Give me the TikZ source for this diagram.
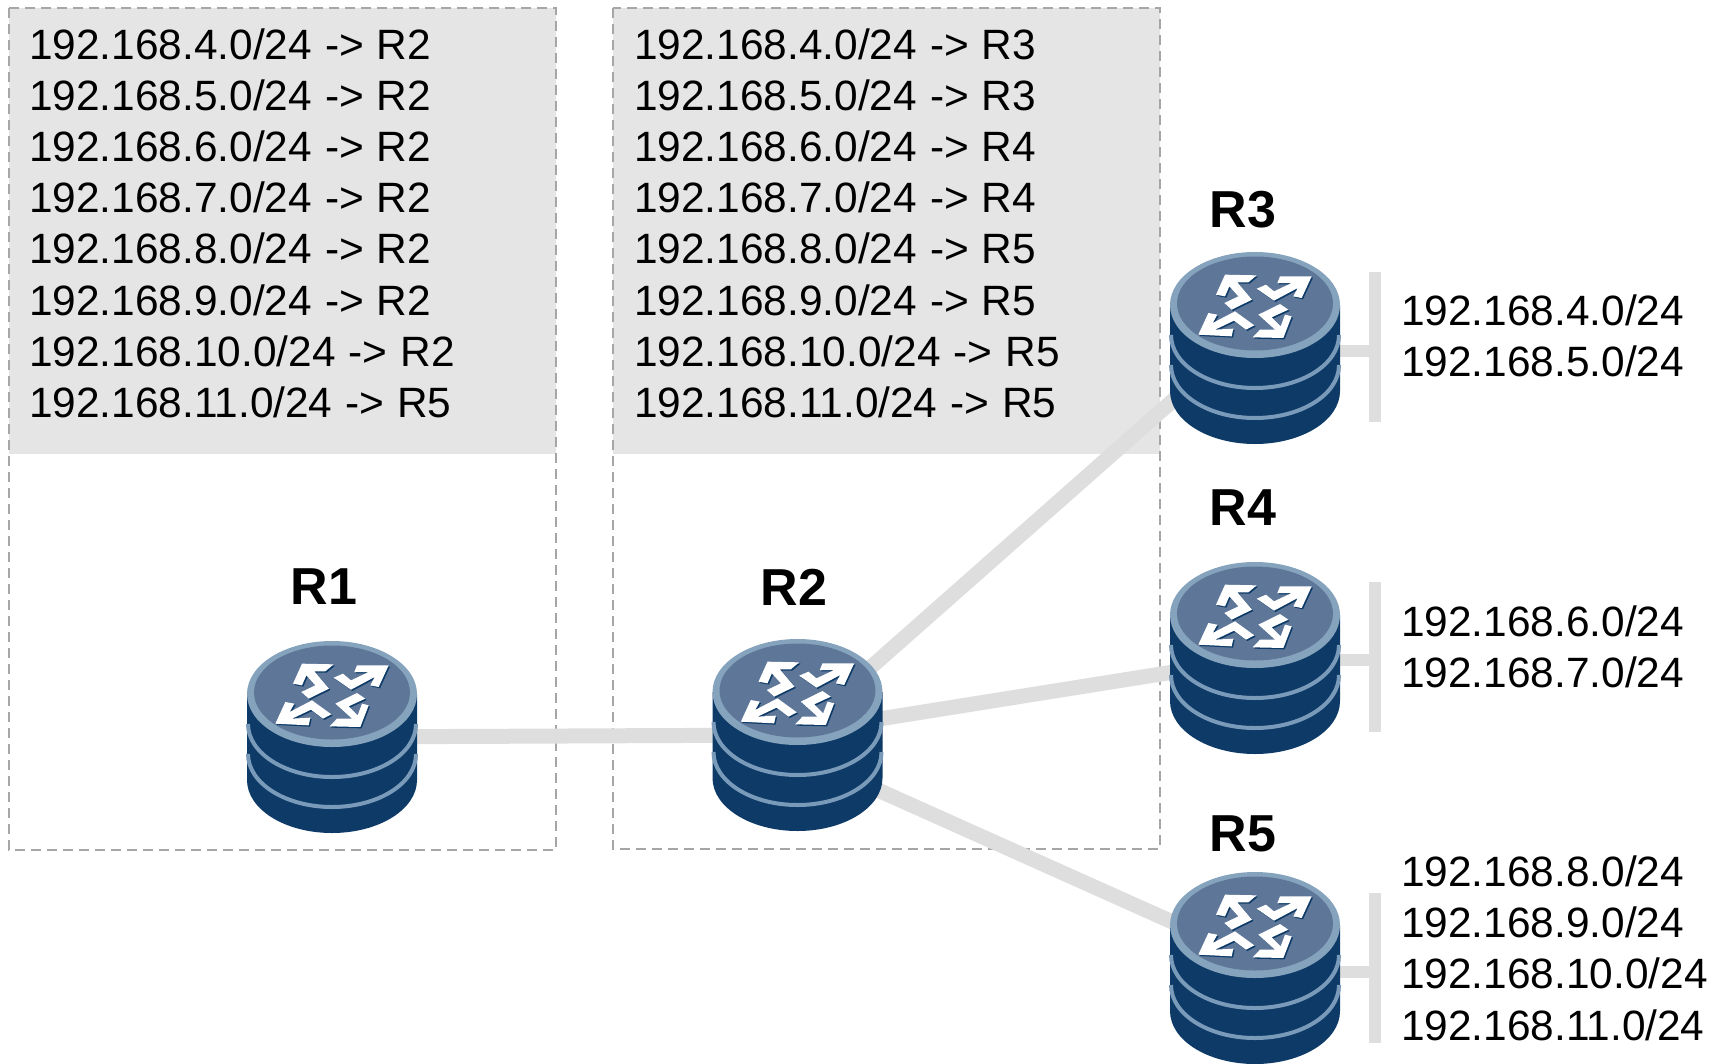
\documentclass[tikz,border=0pt]{standalone}
\usepackage{fontspec}
\setmainfont{Liberation Sans}
\newfontfamily\netfam[WordSpace=1.1]{Liberation Sans}
\definecolor{rbody}{HTML}{0D3A66}
\definecolor{rtop}{HTML}{5E7799}
\definecolor{rrim}{HTML}{86A3BE}
\definecolor{rband}{HTML}{7A9ABA}
\definecolor{linkc}{HTML}{DEDEDE}
\definecolor{panelc}{HTML}{E5E5E5}
\definecolor{dashc}{HTML}{A6A6A6}
\tikzset{
  netlabel/.style={anchor=base west,inner sep=0pt,font=\netfam\fontsize{42.4}{50}\selectfont},
  rname/.style={anchor=center,inner sep=0pt,font=\fontsize{52}{60}\selectfont\bfseries},
  link/.style={draw=linkc,line width=15pt},
  bus/.style={draw=linkc,line width=12pt},
  panel/.style={draw=dashc,line width=2.5pt,dash pattern=on 10pt off 6pt},
  routerbox/.style={minimum width=170pt,minimum height=190pt,inner sep=0pt},
  router/.pic={
   \begin{scope}[yscale=-1]
    \fill[rbody] (-85,0) -- (-85,86) .. controls (-85,115.3) and (-47,139) .. (0,139) .. controls (47,139) and (85,115.3) .. (85,86) -- (85,0) -- cycle;
    \draw[rband,line width=4pt] (-84,30) .. controls (-84,59.3) and (-46.4,83) .. (0,83) .. controls (46.4,83) and (84,59.3) .. (84,30);
    \draw[rband,line width=4pt] (-84,60) .. controls (-84,89.3) and (-46.4,113) .. (0,113) .. controls (46.4,113) and (84,89.3) .. (84,60);
    \fill[rrim] (0,0) ellipse[x radius=85,y radius=53];
    \fill[rtop] (0,-1.5) ellipse[x radius=78,y radius=47];
    \begin{scope}[x=0.3333pt,y=0.3333pt,shift={(-335,-221)}]
      \foreach \dx/\col in {4/rbody,0/white}{
      \fill[\col,shift={(\dx,\dx)}] (245,130) -- (340,132) -- (315,153) -- (282,153) -- (326,205) -- (265,235) -- (243,215) -- (285,195) -- (258,165) -- (245,195) -- (218,190) -- cycle;
      \fill[\col,shift={(\dx,\dx)}] (340,172) -- (368,160) -- (392,180) -- (445,155) -- (402,155) -- (410,135) -- (505,135) -- (475,200) -- (450,195) -- (463,170) -- (392,208) -- cycle;
      \fill[\col,shift={(\dx,\dx)}] (165,310) -- (195,245) -- (222,250) -- (208,275) -- (275,240) -- (333,282) -- (308,295) -- (272,268) -- (215,295) -- (270,292) -- (265,315) -- cycle;
      \fill[\col,shift={(\dx,\dx)}] (445,255) -- (420,320) -- (328,318) -- (350,295) -- (395,295) -- (345,250) -- (410,218) -- (435,235) -- (385,258) -- (412,285) -- (425,250) -- cycle;
      }
    \end{scope}
   \end{scope}
  }
}
\begin{document}
\begin{tikzpicture}[x=1pt,y=1pt,yscale=-1]
\useasboundingbox (0,0) rectangle (1713,1063);
% panels
\fill[panelc] (9,8) rectangle (556,454);
\fill[panelc] (613,8) rectangle (1160,454);
\draw[panel] (9,8) rectangle (556,850);
\draw[panel] (613,8) rectangle (1160,849);
% router anchors
\node[routerbox] (r1) at (332,737) {};
\node[routerbox] (r2) at (797.5,735) {};
\node[routerbox] (r3) at (1255,347) {};
\node[routerbox] (r4) at (1255,657) {};
\node[routerbox] (r5) at (1255,967) {};
% bus bars
\coordinate (b3t) at (1375,272); \coordinate (b3b) at (1375,422);
\coordinate (b4t) at (1375,582); \coordinate (b4b) at (1375,732);
\coordinate (b5t) at (1375,893); \coordinate (b5b) at (1375,1043);
\coordinate (b3m) at (1375,351); \coordinate (b4m) at (1375,660); \coordinate (b5m) at (1375,972);
% links
\draw[link] (r1.center) -- (r2.center);
\draw[link] ([yshift=-3pt]r2.center) -- ([yshift=-19pt]r3.center);
\draw[link] ([yshift=-3pt]r2.center) -- ([yshift=2pt]r4.center);
\draw[link] ([yshift=19pt]r2.center) -- ([yshift=-8pt]r5.center);
\draw[bus] (b3t) -- (b3b);
\draw[bus] (b4t) -- (b4b);
\draw[bus] (b5t) -- (b5b);
\draw[bus] (r3.center |- b3m) -- (b3m);
\draw[bus] (r4.center |- b4m) -- (b4m);
\draw[bus] (r5.center |- b5m) -- (b5m);
% routers
\pic at (332,694) {router};
\pic at (797.5,692) {router};
\pic at (1255,305) {router};
\pic at (1255,615) {router};
\pic at (1255,925) {router};
% names
\node[rname] (n1) at (324,587) {R1};
\node[rname] (n2) at (794,587) {R2};
\node[rname] (n3) at (1243,210) {R3};
\node[rname] (n4) at (1243,508) {R4};
\node[rname] (n5) at (1243,834) {R5};
% tables
\node[netlabel] (a0) at (29,59) {192.168.4.0/24 -> R2};
\node[netlabel] (a1) at (29,110.2) {192.168.5.0/24 -> R2};
\node[netlabel] (a2) at (29,161.4) {192.168.6.0/24 -> R2};
\node[netlabel] (a3) at (29,212.6) {192.168.7.0/24 -> R2};
\node[netlabel] (a4) at (29,263.8) {192.168.8.0/24 -> R2};
\node[netlabel] (a5) at (29,315) {192.168.9.0/24 -> R2};
\node[netlabel] (a6) at (29,366.2) {192.168.10.0/24 -> R2};
\node[netlabel] (a7) at (29,417.4) {192.168.11.0/24 -> R5};
\node[netlabel] (c0) at (634,59) {192.168.4.0/24 -> R3};
\node[netlabel] (c1) at (634,110.2) {192.168.5.0/24 -> R3};
\node[netlabel] (c2) at (634,161.4) {192.168.6.0/24 -> R4};
\node[netlabel] (c3) at (634,212.6) {192.168.7.0/24 -> R4};
\node[netlabel] (c4) at (634,263.8) {192.168.8.0/24 -> R5};
\node[netlabel] (c5) at (634,315) {192.168.9.0/24 -> R5};
\node[netlabel] (c6) at (634,366.2) {192.168.10.0/24 -> R5};
\node[netlabel] (c7) at (634,417.4) {192.168.11.0/24 -> R5};
% networks
\node[netlabel] (p0) at (1401,325) {192.168.4.0/24};
\node[netlabel] (p1) at (1401,376.5) {192.168.5.0/24};
\node[netlabel] (q0) at (1401,636) {192.168.6.0/24};
\node[netlabel] (q1) at (1401,687) {192.168.7.0/24};
\node[netlabel] (s0) at (1401,886) {192.168.8.0/24};
\node[netlabel] (s1) at (1401,937) {192.168.9.0/24};
\node[netlabel] (s2) at (1401,988.5) {192.168.10.0/24};
\node[netlabel] (s3) at (1401,1040) {192.168.11.0/24};
\end{tikzpicture}
\end{document}
